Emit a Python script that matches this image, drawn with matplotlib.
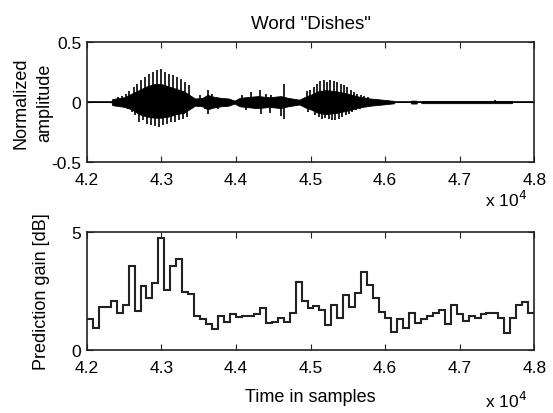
import matplotlib

matplotlib.use("Agg")
import matplotlib.pyplot as plt
import numpy as np

plt.rcParams["font.family"] = ["Liberation Sans", "DejaVu Sans"]
plt.rcParams["font.size"] = 13

# --- waveform of the word "Dishes" (envelope) ---
env_t = [42000, 42330, 42340, 42500, 42600, 42700, 42800, 42900, 43000, 43100,
         43200, 43300, 43400, 43450, 43550, 43620, 43700, 43800, 43900, 43980,
         44050, 44200, 44300, 44450, 44600, 44700, 44850, 44950, 45000, 45100,
         45200, 45350, 45500, 45650, 45800, 46000, 46120, 46130, 46340, 46350,
         46420, 46430, 46480, 46490, 47700, 47710, 48000]
env_hi = [0, 0, 0.025, 0.04, 0.07, 0.10, 0.13, 0.15, 0.15, 0.13,
          0.11, 0.09, 0.05, 0.03, 0.035, 0.06, 0.045, 0.035, 0.03, 0.012,
          0.035, 0.045, 0.05, 0.04, 0.05, 0.035, 0.02, 0.05, 0.06, 0.09,
          0.10, 0.09, 0.07, 0.045, 0.03, 0.018, 0.01, 0, 0, 0.012,
          0.012, 0, 0, 0.009, 0.009, 0, 0]
env_lo = [0, 0, -0.025, -0.04, -0.06, -0.10, -0.12, -0.13, -0.13, -0.12,
          -0.10, -0.09, -0.05, -0.03, -0.035, -0.06, -0.045, -0.035, -0.03, -0.012,
          -0.035, -0.045, -0.05, -0.04, -0.05, -0.035, -0.02, -0.05, -0.06, -0.09,
          -0.10, -0.09, -0.07, -0.045, -0.03, -0.018, -0.01, 0, 0, -0.012,
          -0.012, 0, 0, -0.009, -0.009, 0, 0]

# pitch pulses (spike tips)
spike_t = [42420, 42470, 42520, 42570,
           42629, 42674, 42724, 42778, 42833, 42887, 42941, 42996, 43050, 43104,
           43158, 43213, 43267, 43321, 43376,
           42550, 42600, 42650,
           42697, 42751, 42805, 42860, 42914, 42968, 43023, 43077, 43131, 43186,
           43240, 43294, 43349,
           43520, 43580, 43625, 43630, 43680, 43760, 44080, 44140, 44200, 44250,
           44326, 44330, 44400, 44460, 44470, 44643, 44648, 44600, 44950, 44960,
           44995, 45041, 45086, 45131, 45176, 45222, 45267, 45312, 45357, 45403,
           45448, 45493, 45538, 45584, 45629, 45674, 45720, 45770,
           45063, 45109, 45154, 45199, 45244, 45290, 45335, 45380, 45425, 45471,
           45516, 45561, 45610, 45660, 47480]
spike_v = [0.04, 0.05, 0.07, 0.09,
           0.125, 0.153, 0.181, 0.208, 0.236, 0.25, 0.264, 0.278, 0.25, 0.236,
           0.222, 0.208, 0.194, 0.167, 0.139,
           -0.06, -0.08, -0.11,
           -0.167, -0.153, -0.181, -0.194, -0.203, -0.208, -0.194, -0.181, -0.167, -0.167,
           -0.153, -0.139, -0.125,
           0.06, -0.06, 0.10, -0.10, 0.07, -0.06, 0.06, -0.07, 0.08, -0.06,
           0.10, -0.10, 0.07, -0.09, 0.06, 0.15, -0.14, -0.12, 0.09, -0.08,
           0.097, 0.125, 0.153, 0.175, 0.186, 0.167, 0.181, 0.175, 0.167, 0.153,
           0.139, 0.125, 0.097, 0.083, 0.069, 0.056, 0.05, 0.04,
           -0.111, -0.125, -0.139, -0.133, -0.139, -0.147, -0.147, -0.139, -0.125, -0.111,
           -0.097, -0.083, -0.07, -0.06, 0.02]

# --- prediction gain per 80-sample frame [dB] ---
frame_edges = np.arange(42000, 48001, 80)
gain_db = [1.31, 0.95, 1.83, 1.83, 2.09, 1.59, 1.90, 3.58, 1.66, 2.70,
           2.20, 2.84, 4.76, 2.56, 3.58, 3.84, 2.47, 2.37, 1.45, 1.31,
           1.12, 0.91, 1.45, 1.21, 1.52, 1.41, 1.45, 1.45, 1.52, 1.78,
           1.14, 1.21, 1.34, 1.21, 1.59, 2.90, 2.09, 1.78, 1.85, 1.70,
           1.07, 1.90, 1.38, 2.33, 1.83, 2.41, 3.32, 2.76, 2.20, 1.60,
           1.38, 0.78, 1.31, 0.95, 1.59, 1.14, 1.31, 1.45, 1.59, 1.69,
           1.12, 1.90, 1.52, 1.24, 1.45, 1.34, 1.52, 1.55, 1.55, 1.34,
           0.74, 1.34, 1.90, 2.05, 1.59]

xticks = np.arange(42000, 48001, 1000)
ink = "#222222"


def style(ax, off_y):
    ax.set_xlim(42000, 48000)
    ax.set_xticks(xticks)
    ax.set_xticklabels([f"{v / 1e4:.1f}" for v in xticks])
    ax.tick_params(direction="in", top=True, right=True, length=4,
                   color=ink, labelsize=12.5)
    ax.tick_params(axis="x", pad=7)
    ax.tick_params(axis="y", pad=4)
    for s in ax.spines.values():
        s.set_color(ink)
        s.set_linewidth(1.2)
    ax.text(0.985, off_y, r"x 10$^4$", transform=ax.transAxes, ha="right",
            va="top", fontsize=12.5)


fig = plt.figure(figsize=(5.53, 4.14), dpi=100)
ax1 = fig.add_axes([0.157, 0.606, 0.809, 0.290])
ax2 = fig.add_axes([0.157, 0.152, 0.809, 0.285])

ax1.axhline(0, color="black", lw=1.2)
ax1.fill_between(env_t, env_lo, env_hi, color="black", lw=0.6, edgecolor="black")
ax1.vlines(spike_t, 0, spike_v, color="black", lw=1.2)
ax1.set_ylim(-0.5, 0.5)
ax1.set_yticks([-0.5, 0, 0.5])
ax1.set_yticklabels(["-0.5", "0", "0.5"])
ax1.set_ylabel("Normalized\namplitude", linespacing=1.45)
ax1.yaxis.set_label_coords(-0.076, 0.5)
ax1.set_title('Word "Dishes"', fontsize=13.5, pad=10)
style(ax1, -0.225)

ax2.stairs(gain_db, frame_edges, baseline=None, color=ink, lw=1.5)
ax2.set_ylim(0, 5)
ax2.set_yticks([0, 5])
ax2.set_ylabel("Prediction gain [dB]")
ax2.yaxis.set_label_coords(-0.083, 0.5)
ax2.set_xlabel("Time in samples")
ax2.xaxis.set_label_coords(0.5, -0.32)
style(ax2, -0.34)

fig.savefig("out.png", dpi=100)
